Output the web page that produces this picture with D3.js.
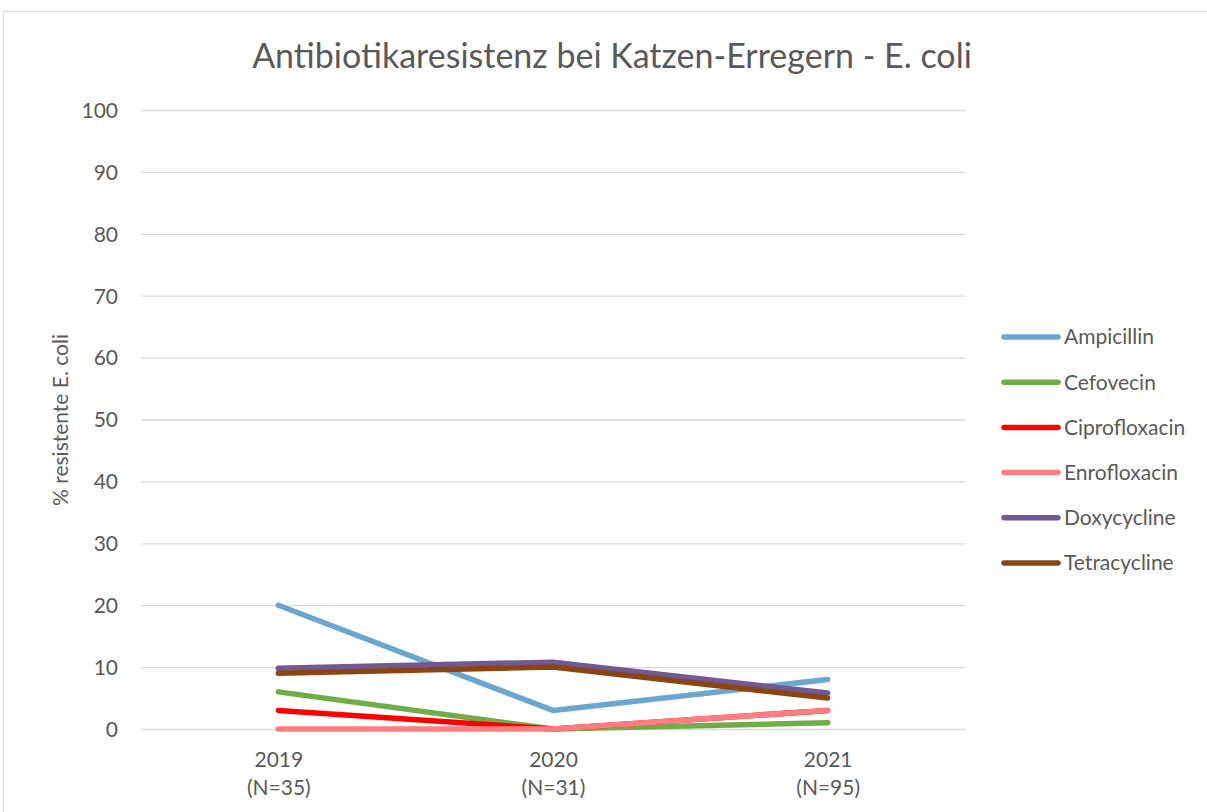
<!DOCTYPE html>
<html>
<head>
<meta charset="utf-8">
<script src="https://cdn.jsdelivr.net/npm/d3@7"></script>
<style>
  body { margin: 0; background: #fff; }
  svg text { font-family: Lato, "Open Sans", sans-serif; fill: #595959; }
</style>
</head>
<body>
<svg id="chart" width="1207" height="812"></svg>
<script>
// data
var years = ["2019", "2020", "2021"];
var counts = ["(N=35)", "(N=31)", "(N=95)"];
var yTicks = [0, 10, 20, 30, 40, 50, 60, 70, 80, 90, 100];

var ampicillin = [20, 3, 8];
var cefovecin = [6, 0, 1];
var ciprofloxacin = [3, 0, 3];
var enrofloxacin = [0, 0, 3];
var doxycycline = [9.8, 10.8, 5.8];
var tetracycline = [9, 10, 5];

var seriesNames = ["Ampicillin", "Cefovecin", "Ciprofloxacin", "Enrofloxacin", "Doxycycline", "Tetracycline"];
var seriesColors = ["#6ba6d0", "#70ad47", "#ff0000", "#ff7c80", "#715996", "#8b4513"];

var series = [ampicillin, cefovecin, ciprofloxacin, enrofloxacin, doxycycline, tetracycline];

var svg = d3.select("#chart");

// outer chart border
svg.append("rect")
  .attr("x", 3.5).attr("y", 11.5)
  .attr("width", 1220).attr("height", 820)
  .style("fill", "none").style("stroke", "#d9d9d9").style("stroke-width", 1);

var plotLeft = 141, plotRight = 965, plotTop = 110, plotBottom = 729;

var x = d3.scalePoint().domain(years).range([plotLeft, plotRight]).padding(0.5);
var y = d3.scaleLinear().domain([0, 100]).range([plotBottom, plotTop]);

// gridlines
svg.append("g").selectAll("line")
  .data(yTicks)
  .enter().append("line")
  .attr("x1", plotLeft).attr("x2", plotRight)
  .attr("y1", function(d) { return y(d) + 0.5; })
  .attr("y2", function(d) { return y(d) + 0.5; })
  .style("stroke", "#d9d9d9").style("stroke-width", 1.3);

// y axis labels
var yAxis = d3.axisLeft(y).tickValues(yTicks).tickSize(0).tickPadding(0);
var gy = svg.append("g").attr("transform", "translate(118,0)").call(yAxis);
gy.select(".domain").remove();
gy.selectAll("text").style("font-size", "21px").style("fill", "#595959")
  .style("font-family", "Lato, sans-serif").attr("dy", "0.35em");

// x axis labels
var xAxis = d3.axisBottom(x).tickSize(0).tickPadding(0);
var gx = svg.append("g").attr("transform", "translate(0,748)").call(xAxis);
gx.select(".domain").remove();
gx.selectAll("text").remove();
gx.selectAll(".tick").each(function(d, i) {
  var t = d3.select(this).append("text")
    .attr("text-anchor", "middle")
    .style("font-size", "21px").style("fill", "#595959");
  t.append("tspan").attr("x", 0).attr("y", 19).text(d);
  t.append("tspan").attr("x", 0).attr("y", 47).text(counts[i]);
});

// lines
var line = d3.line()
  .x(function(d, i) { return x(years[i]); })
  .y(function(d) { return y(d); });

svg.append("g").selectAll("path")
  .data(series)
  .enter().append("path")
  .attr("d", line)
  .style("fill", "none")
  .style("stroke", function(d, i) { return seriesColors[i]; })
  .style("stroke-width", 5.5)
  .style("stroke-linecap", "round")
  .style("stroke-linejoin", "round");

// title
svg.append("text")
  .attr("x", 612).attr("y", 68)
  .attr("text-anchor", "middle")
  .style("font-size", "34px")
  .text("Antibiotikaresistenz bei Katzen-Erregern - E. coli");

// y axis title
svg.append("text")
  .attr("transform", "translate(68,420) rotate(-90)")
  .attr("text-anchor", "middle")
  .style("font-size", "21px")
  .text("% resistente E. coli");

// legend
var legend = svg.append("g").selectAll("g")
  .data(seriesNames)
  .enter().append("g")
  .attr("transform", function(d, i) { return "translate(1004," + (337 + i * 45.2) + ")"; });

legend.append("line")
  .attr("x1", 0).attr("x2", 54)
  .style("stroke", function(d, i) { return seriesColors[i]; })
  .style("stroke-width", 5.5)
  .style("stroke-linecap", "round");

legend.append("text")
  .attr("x", 60).attr("dy", "0.35em")
  .style("font-size", "21px")
  .text(function(d) { return d; });
</script>
</body>
</html>
